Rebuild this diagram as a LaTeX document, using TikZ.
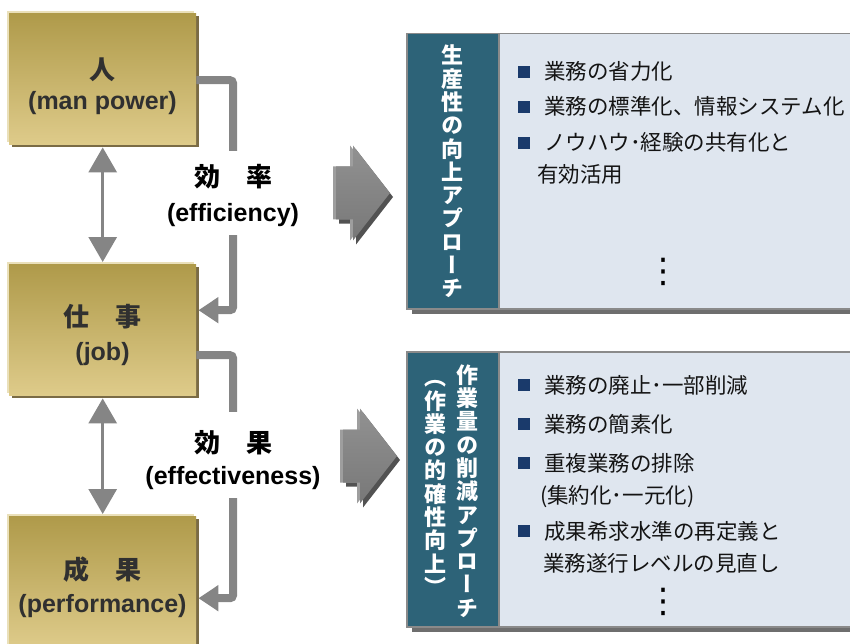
\documentclass[tikz,border=0pt]{standalone}
\usepackage{fontspec}
\setmainfont{Liberation Sans}
\newfontfamily\jp{Noto Sans CJK JP}
\newfontfamily\vjp[RawFeature={+vert}]{Noto Sans CJK JP}
\newfontfamily\dejavu{DejaVu Sans}
\usetikzlibrary{arrows.meta,shadows}
\definecolor{goldtop}{HTML}{AF9A4A}
\definecolor{goldbot}{HTML}{DECB8A}
\definecolor{goldshadow}{HTML}{7A6B45}
\definecolor{goldlight}{HTML}{EAE0BA}
\definecolor{conngray}{HTML}{858585}
\definecolor{tealpanel}{HTML}{2D6378}
\definecolor{panelbg}{HTML}{DFE6EF}
\definecolor{panelborder}{HTML}{8A8A8A}
\definecolor{panelshadow}{HTML}{6E6E6E}
\definecolor{navybullet}{HTML}{1A3A6B}
\definecolor{boxtext}{HTML}{303030}
\definecolor{itemtext}{HTML}{141414}
\newcommand\sqbullet{{\color{navybullet}\rule[2pt]{12pt}{12pt}}\hspace{14pt}}
\begin{document}
\begin{tikzpicture}[x=1pt,y=-1pt,
  goldbox/.style={top color=goldtop, bottom color=goldbot, minimum width=187pt,
    minimum height=131pt, anchor=north west, inner sep=0pt,
    general shadow={fill=goldshadow, shadow xshift=3pt, shadow yshift=-3pt},
    general shadow={fill=goldlight, shadow xshift=-2pt, shadow yshift=2pt}},
  boxcjk/.style={font=\jp\bfseries\fontsize{26}{30}\selectfont, text=boxtext, inner sep=0pt},
  boxlat/.style={font=\bfseries\fontsize{25}{30}\selectfont, text=boxtext, inner sep=0pt},
  dblarrow/.style={draw=conngray, line width=3pt,
    {Triangle[width=28pt,length=25pt]}-{Triangle[width=28pt,length=25pt]}},
  elbow/.style={draw=conngray, line width=8pt, rounded corners=3pt,
    -{Triangle[width=25pt,length=20pt]}},
  labcjk/.style={fill=white, text=black, inner xsep=3pt, font=\jp\bfseries\fontsize{26}{30}\selectfont},
  lablat/.style={fill=white, text=black, inner xsep=3pt, inner ysep=8pt, font=\bfseries\fontsize{25}{30}\selectfont},
  tealbox/.style={fill=tealpanel, draw=panelborder, line width=1.5pt, anchor=north west,
    inner sep=0pt, minimum width=92pt, minimum height=275pt,
    general shadow={fill=panelshadow, shadow xshift=5pt, shadow yshift=-5pt}},
  lightbox/.style={fill=panelbg, draw=panelborder, line width=1.5pt, anchor=north west,
    inner sep=0pt, minimum width=362pt, minimum height=275pt,
    general shadow={fill=panelshadow, shadow xshift=5pt, shadow yshift=-5pt}},
  vtitle/.style={align=center, inner sep=0pt, text=white,
    font=\vjp\bfseries\fontsize{22}{23.3}\selectfont},
  item/.style={anchor=base west, inner sep=0pt, text=itemtext,
    font=\jp\fontsize{21.5}{26}\selectfont},
  vdots/.style={inner sep=0pt, text=black, font=\dejavu\fontsize{34}{34}\selectfont},
  pics/blockarrow/.style={code={
    \fill[black!68] ([shift={(3,4)}]-54,-26.5) -- ([shift={(3,4)}]-37,-26.5) -- ([shift={(3,4)}]-37,-47.5)
      -- ([shift={(3,4)}]0,0) -- ([shift={(3,4)}]-37,47.5) -- ([shift={(3,4)}]-37,26.5)
      -- ([shift={(3,4)}]-54,26.5) -- cycle;
    \fill[black!38] ([shift={(-3,0)}]-54,-26.5) -- ([shift={(-3,0)}]-37,-26.5) -- ([shift={(-3,0)}]-37,-47.5)
      -- ([shift={(-3,0)}]0,0) -- ([shift={(-3,0)}]-37,47.5) -- ([shift={(-3,0)}]-37,26.5)
      -- ([shift={(-3,0)}]-54,26.5) -- cycle;
    \shade[top color=black!43, bottom color=black!53] (-54,-26.5) -- (-37,-26.5) -- (-37,-47.5) -- (0,0)
      -- (-37,47.5) -- (-37,26.5) -- (-54,26.5) -- cycle;
  }}
]
\useasboundingbox (0,0) rectangle (850,644);
\clip (0,0) rectangle (850,644);

% gold boxes
\node[goldbox] (b1) at (9,13) {};
\node[goldbox] (b2) at (9,264) {};
\node[goldbox] (b3) at (9,516) {};

\node[boxcjk] (t1a) at (102.5,70) {人};
\node[boxlat] (t1b) at (102.5,103) {(man power)};
\node[boxcjk] (t2a) at (102.5,317) {仕　事};
\node[boxlat] (t2b) at (102.5,354) {(job)};
\node[boxcjk] (t3a) at (102.5,570) {成　果};
\node[boxlat] (t3b) at (102.5,606) {(performance)};

% vertical double arrows
\draw[dblarrow] ([yshift=-3pt]b1.south) -- ([yshift=2pt]b2.north);
\draw[dblarrow] ([yshift=-3pt]b2.south) -- ([yshift=2pt]b3.north);

% elbow connectors
\coordinate (k) at (233,0);
\coordinate (e1) at ([xshift=2pt,yshift=19.5pt]b2.east);
\coordinate (e2) at ([xshift=2pt,yshift=-16.5pt]b3.east);
\draw[elbow] ([yshift=-1.5pt]b1.east) -| (k |- e1) -- (e1);
\draw[elbow] ([yshift=-25.5pt]b2.east) -| (k |- e2) -- (e2);

% labels
\node[labcjk, inner ysep=14pt] (l1a) at (233,177) {効　率};
\node[lablat] (l1b) at (233,215) {(efficiency)};
\node[labcjk, inner ysep=19pt] (l2a) at (233,443) {効　果};
\node[lablat] (l2b) at (233,478) {(effectiveness)};

% block arrows
\pic at (390,193) {blockarrow};
\pic at (397,456) {blockarrow};

% panel 1
\node[tealbox] (p1t) at (406,33) {};
\node[lightbox] (p1b) at (498,33) {};
\node[vtitle] (p1title) at (452,171.5) {生\\産\\性\\の\\向\\上\\ア\\プ\\ロ\\ー\\チ};
\node[item] (i11) at (518,80) {\sqbullet 業務の省力化};
\node[item] (i12) at (518,115) {\sqbullet 業務の標準化、情報システム化};
\node[item] (i13) at (518,151) {\sqbullet ノウハウ･経験の共有化と};
\node[item] (i13b) at (537,183) {有効活用};
\node[vdots] (d1) at (663,272) {⋮};

% panel 2
\node[tealbox] (p2t) at (406,351) {};
\node[lightbox] (p2b) at (498,351) {};
\node[vtitle] (p2title) at (467,491) {作\\業\\量\\の\\削\\減\\ア\\プ\\ロ\\ー\\チ};
\node[vtitle] (p2sub) at (435,488) {（\\作\\業\\の\\的\\確\\性\\向\\上\\）};
\node[item] (i21) at (518,393) {\sqbullet 業務の廃止･一部削減};
\node[item] (i22) at (518,432) {\sqbullet 業務の簡素化};
\node[item] (i23) at (518,471) {\sqbullet 重複業務の排除};
\node[item] (i23b) at (540,503) {(集約化･一元化)};
\node[item] (i24) at (518,539) {\sqbullet 成果希求水準の再定義と};
\node[item] (i24b) at (543,571) {業務遂行レベルの見直し};
\node[vdots] (d2) at (663,602) {⋮};
\end{tikzpicture}
\end{document}
